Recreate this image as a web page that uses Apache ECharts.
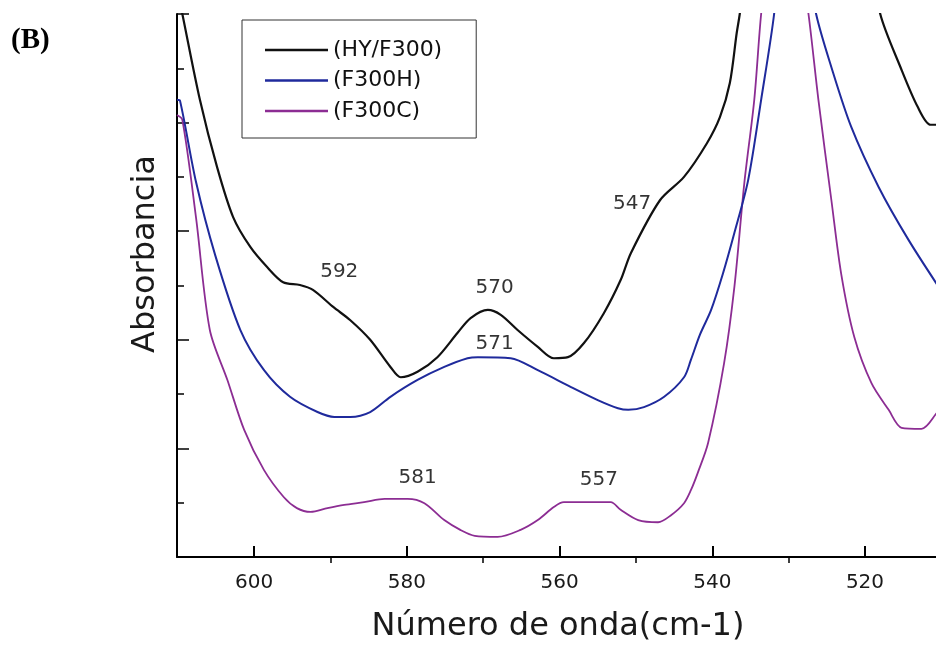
<!DOCTYPE html>
<html>
<head>
<meta charset="utf-8">
<script src="https://cdn.jsdelivr.net/npm/echarts@6/dist/echarts.min.js"></script>
<style>
html,body{margin:0;padding:0;background:#fff;}
#chart{width:936px;height:650px;}
</style>
</head>
<body>
<div id="chart"></div>
<script>
// [wavenumber (cm-1), absorbance (arbitrary units)]
const hyF300 = [
  [610.0,10.4],[609.4,10.0],[607.1,8.42],[604.85,7.18],[602.75,6.26],[600.5,5.71],[598.3,5.34],
  [596.2,5.06],[594.0,5.01],[592.3,4.92],[589.6,4.60],[587.4,4.36],[584.8,4.00],[582.15,3.50],
  [580.8,3.31],[578.6,3.41],[576.0,3.68],[573.35,4.13],[571.65,4.40],[569.4,4.55],[567.7,4.46],
  [565.5,4.18],[562.85,3.87],[560.75,3.66],[558.9,3.68],[556.8,3.94],[554.2,4.49],[552.0,5.10],
  [550.65,5.60],[546.85,6.57],[543.7,7.00],[540.7,7.62],[539.0,8.10],[537.7,8.73],[536.8,9.65],
  [536.4,10.0],[535.5,11.0],[528.0,16.0],[519.0,11.0],[518.0,10.0],[515.35,9.02],[513.1,8.29],
  [511.4,7.96],[510.0,7.96]
];
const f300H = [
  [610.1,8.42],[609.7,8.40],[607.6,6.90],[605.1,5.56],[601.8,4.18],[598.7,3.44],[595.3,2.95],
  [591.7,2.67],[589.5,2.58],[587.4,2.58],[584.8,2.67],[582.15,2.95],[578.6,3.26],[575.1,3.50],
  [572.05,3.66],[570.7,3.68],[566.4,3.66],[562.85,3.44],[558.5,3.13],[555.0,2.89],[552.35,2.74],
  [551.0,2.71],[548.95,2.76],[546.3,2.95],[543.7,3.31],[542.8,3.63],[541.6,4.10],[540.15,4.55],
  [538.6,5.22],[537.1,5.97],[535.3,6.94],[533.6,8.42],[531.9,10.0],[530.5,12.0],[528.0,12.0],
  [527.5,11.0],[526.4,10.0],[524.4,9.02],[521.8,7.92],[518.2,6.81],[514.3,5.84],[510.0,4.90]
];
const f300C = [
  [610.1,8.14],[609.4,8.05],[607.6,6.24],[605.8,4.18],[603.5,3.26],[601.3,2.34],[598.7,1.60],
  [596.1,1.10],[594.4,0.90],[592.6,0.83],[590.4,0.90],[588.2,0.96],[585.6,1.01],[582.9,1.07],
  [579.9,1.07],[577.7,0.99],[575.1,0.68],[573.0,0.50],[571.1,0.39],[568.1,0.37],[565.1,0.50],
  [562.85,0.68],[560.75,0.92],[559.45,1.01],[553.3,1.01],[552.0,0.87],[549.7,0.68],[547.1,0.64],
  [545.4,0.77],[543.7,0.99],[542.8,1.23],[541.9,1.55],[540.55,2.10],[538.45,3.57],[537.1,4.98],
  [535.8,6.89],[534.5,8.42],[533.6,10.0],[532.0,12.0],[529.0,12.0],[528.5,11.0],[527.4,10.0],
  [526.1,8.42],[524.4,6.57],[523.1,5.20],[521.4,4.05],[519.15,3.20],[516.9,2.71],[515.2,2.38],
  [512.6,2.36],[510.5,2.67],[510.0,2.75]
];
const seriesNames = ['(HY/F300)', '(F300H)', '(F300C)'];
// peak annotations: [label, wavenumber, absorbance]
const peakLabels = [
  ['592', 588.85, 5.25],
  ['570', 568.5, 4.95],
  ['547', 550.5, 6.50],
  ['571', 568.5, 3.92],
  ['581', 578.6, 1.45],
  ['557', 554.85, 1.42]
];
const xMajorTicks = [600, 580, 560, 540, 520];
const xMinorTicks = [590, 570, 550, 530];
const xRange = [510.7, 610.1];

const FONT = 'DejaVu Sans';
const colors = ['#111111', '#1f2a9c', '#8c2d93'];
const widths = [2.2, 2, 1.8];
const chart = echarts.init(document.getElementById('chart'));

const lineSeries = [hyF300, f300H, f300C].map((d, i) => ({
  name: seriesNames[i],
  type: 'line',
  data: d,
  symbol: 'none',
  smooth: 0.3,
  clip: true,
  silent: true,
  legendIcon: 'rect',
  xAxisIndex: 0,
  yAxisIndex: 0,
  lineStyle: { color: colors[i], width: widths[i] },
  itemStyle: { color: colors[i] },
  z: 3 - i
}));

const option = {
  animation: false,
  backgroundColor: '#ffffff',
  grid: { left: 177, top: 14, right: 0, bottom: 93, containLabel: false },
  legend: {
    orient: 'vertical',
    left: 242, top: 20,
    padding: [19, 34, 16, 23],
    icon: 'rect',
    itemWidth: 63, itemHeight: 2.5, itemGap: 8.5,
    borderColor: '#333', borderWidth: 1,
    data: seriesNames,
    textStyle: { fontFamily: FONT, fontSize: 22, color: '#111' }
  },
  xAxis: [{
    type: 'value', inverse: true, min: xRange[0], max: xRange[1],
    axisLine: { show: true, lineStyle: { color: '#000', width: 2 } },
    axisTick: { show: true, inside: true, length: 11, customValues: xMajorTicks, lineStyle: { color: '#000', width: 2 } },
    axisLabel: {
      show: true, margin: 16, fontFamily: FONT, fontSize: 20, color: '#1a1a1a',
      customValues: xMajorTicks
    },
    splitLine: { show: false }
  }, {
    type: 'value', inverse: true, min: xRange[0], max: xRange[1],
    axisLine: { show: false },
    axisTick: { show: true, inside: true, length: 6, customValues: xMinorTicks, lineStyle: { color: '#000', width: 1.5 } },
    axisLabel: { show: false, customValues: xMinorTicks },
    splitLine: { show: false }
  }],
  yAxis: [{
    type: 'value', position: 'left', min: 0, max: 10, interval: 2,
    axisLine: { show: true, lineStyle: { color: '#000', width: 2 } },
    axisTick: { show: true, inside: true, length: 12, lineStyle: { color: '#000', width: 1.5 } },
    axisLabel: { show: false },
    splitLine: { show: false }
  }, {
    type: 'value', position: 'left', offset: 0, min: 0, max: 10, interval: 1,
    axisLine: { show: false },
    axisTick: { show: true, inside: true, length: 7, lineStyle: { color: '#000', width: 1.5 } },
    axisLabel: { show: false },
    splitLine: { show: false }
  }],
  series: lineSeries.concat([{
    name: 'peaks',
    type: 'scatter',
    silent: true,
    symbolSize: 1,
    itemStyle: { color: 'rgba(0,0,0,0)' },
    data: peakLabels.map(p => ({ name: p[0], value: [p[1], p[2]] })),
    label: {
      show: true, position: 'inside', formatter: '{b}',
      fontFamily: FONT, fontSize: 20, color: '#000'
    },
    z: 5
  }]),
  graphic: [{
    type: 'text', x: 11, y: 26,
    style: { text: '(B)', font: 'bold 29px "Liberation Serif"', fill: '#000' }
  }, {
    type: 'text', x: 558, y: 627,
    style: {
      text: 'Número de onda(cm-1)', font: '32px "DejaVu Sans"', fill: '#1a1a1a',
      textAlign: 'center', textVerticalAlign: 'middle', align: 'center', verticalAlign: 'middle'
    }
  }, {
    type: 'text', x: 146, y: 254, rotation: Math.PI / 2,
    style: {
      text: 'Absorbancia', font: '32px "DejaVu Sans"', fill: '#1a1a1a',
      textAlign: 'center', textVerticalAlign: 'middle', align: 'center', verticalAlign: 'middle'
    }
  }]
};
chart.setOption(option);
</script>
</body>
</html>
